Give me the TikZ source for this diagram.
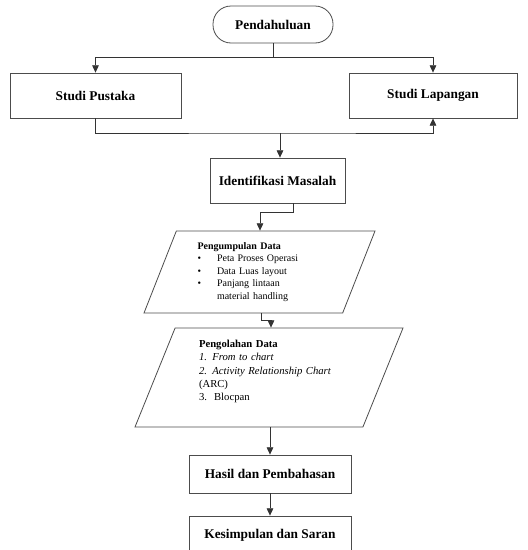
\documentclass[tikz,border=0pt]{standalone}
\usepackage{fontspec}
\setmainfont{Liberation Serif}
\usetikzlibrary{positioning,shapes.geometric,arrows.meta}

\begin{document}
\begin{tikzpicture}[x=0.75pt,y=-0.75pt,
	box/.style={draw=black!70, line width=0.6pt, minimum height=33.75pt, font=\fontsize{10}{12}\selectfont\bfseries},
	term/.style={box, rounded corners=13.5pt, minimum width=90pt, minimum height=27.75pt},
	io/.style={draw=black!70, line width=0.6pt, trapezium, trapezium left angle=63.4, trapezium right angle=116.6,
		trapezium stretches body, align=left, inner sep=2pt},
	arr/.style={-{Triangle[length=5.5pt,width=5pt]}, line width=0.6pt, draw=black!80},
	con/.style={line width=0.6pt, draw=black!80}]
	\useasboundingbox (0,0) rectangle (528,550);
	% kotak-kotak
	\node[term] (pend) at (273,24.5) {Pendahuluan};
	\node[box, minimum width=128.25pt] (pustaka) at (95.5,95.5) {Studi Pustaka};
	\node[box, minimum width=126pt] (lapangan) at (433,95.5) {Studi Lapangan};
	\node[box, minimum width=101.25pt] (ident) at (277.5,180.5) {Identifikasi Masalah};
	\node[io, minimum width=173.25pt, minimum height=61.5pt, text width=93pt,
		font=\fontsize{7.5}{9.4}\selectfont] (kumpul) at (259.5,272)
		{\textbf{Pengumpulan Data}\\
		\textbullet\hspace{1.6em}Peta Proses Operasi\\
		\textbullet\hspace{1.6em}Data Luas layout\\
		\textbullet\hspace{1.6em}Panjang lintaan\\
		\phantom{\textbullet}\hspace{1.6em}material handling};
	\node[io, minimum width=201pt, minimum height=74.25pt, text width=105pt,
		font=\fontsize{8}{10}\selectfont] (olah) at (269,377.5)
		{\textbf{Pengolahan Data}\\
		\textit{1. From to chart}\\
		\textit{2. Activity Relationship Chart}\\
		(ARC)\\
		3.\ \ Blocpan\\[-2.5pt]
		\strut};
	\node[box, minimum width=121.5pt, minimum height=28.5pt] (hasil) at (270,474) {Hasil dan Pembahasan};
	\node[box, minimum width=121.5pt, minimum height=28.5pt] (simpul) at (270,535) {Kesimpulan dan Saran};
	% titik bantu
	\coordinate (c1) at (273,57);
	\coordinate (c2) at (280,133);
	\coordinate (c3) at (260,212);
	\coordinate (c4) at (271,320);
	% garis
	\draw[con] (pend) -- (c1);
	\draw[arr] (c1) -| (pustaka);
	\draw[arr] (c1) -| (lapangan);
	\draw[arr] (pustaka) |- (c2) -| (lapangan);
	\draw[arr] (c2) -- (c2 |- ident.north);
	\draw[arr] (ident.south -| 293,0) |- (c3) -- (c3 |- kumpul.north);
	\draw[arr] (kumpul.south -| 261,0) |- (c4) -- (c4 |- olah.north);
	\draw[arr] (olah.south -| hasil) -- (hasil);
	\draw[arr] (hasil) -- (simpul);
\end{tikzpicture}
\end{document}
